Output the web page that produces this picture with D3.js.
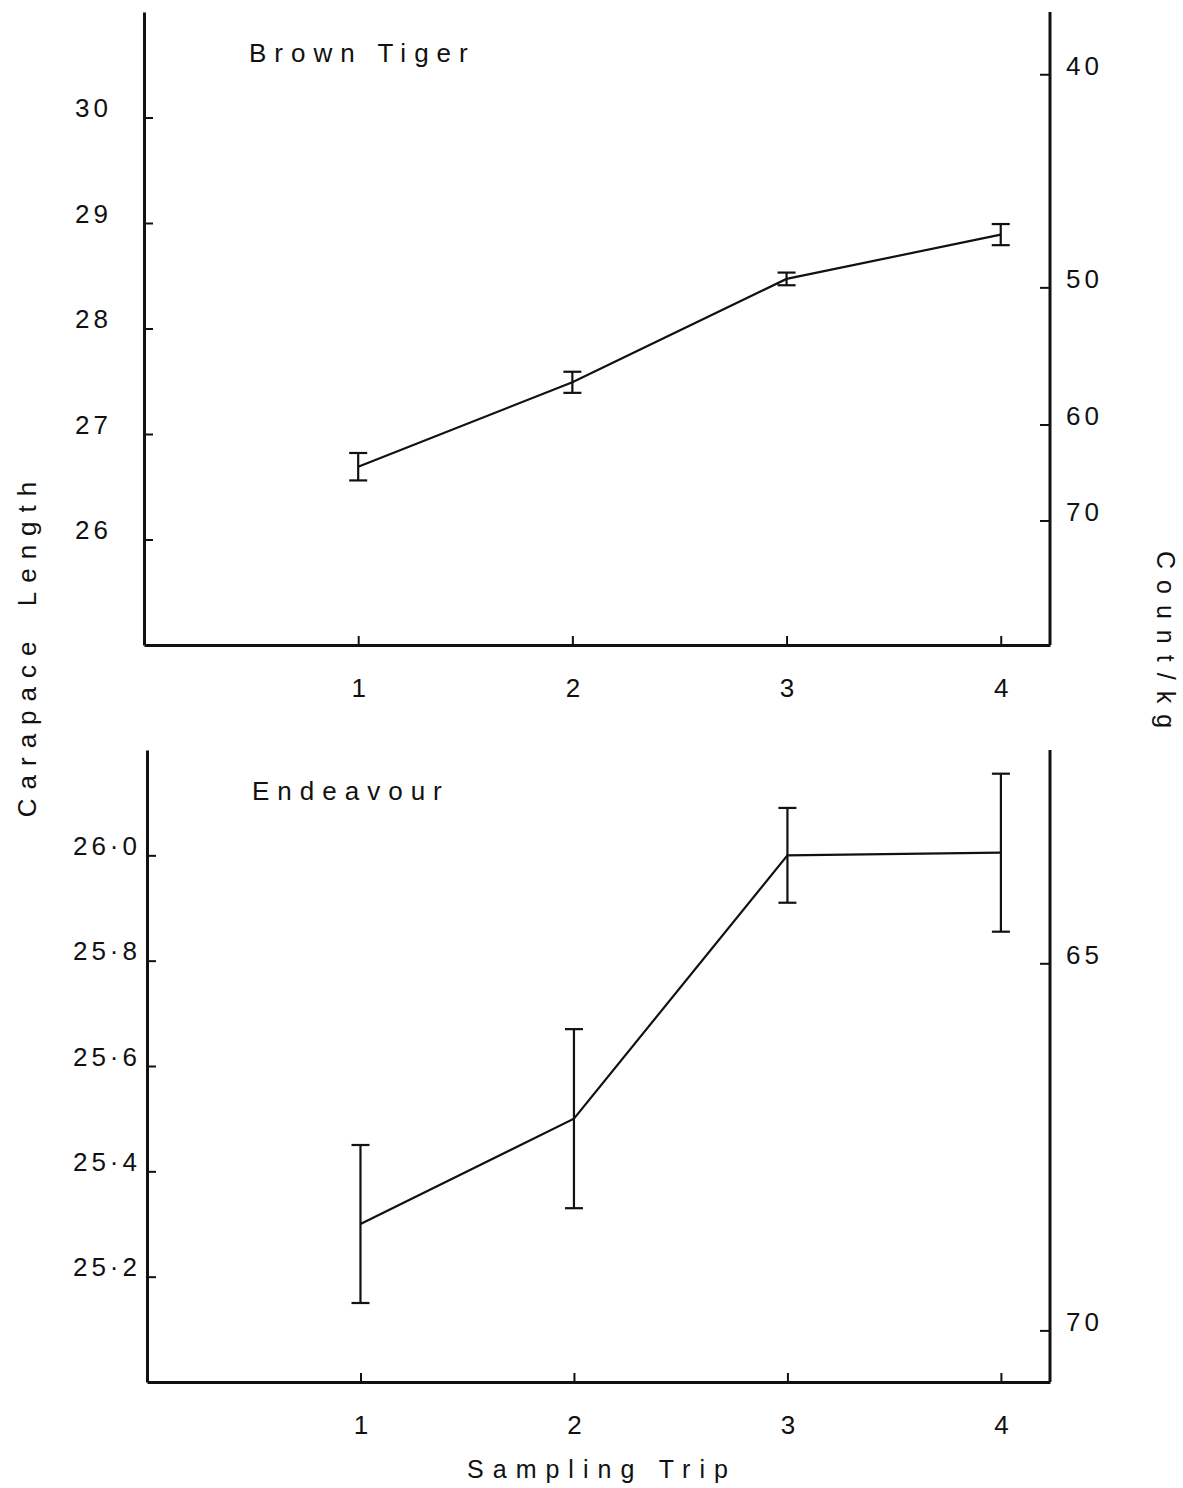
<!DOCTYPE html>
<html lang="en">
<head>
  <meta charset="UTF-8" />
  <title>Carapace Length by Sampling Trip</title>
  <style>
    body { margin: 0; background: #fff; }
    text { font-family: "Liberation Sans", Arial, sans-serif; fill: #111; }
    .axis path, .axis line { stroke: #111; }
    .axis path { stroke-width: 3; }
    .axis line { stroke-width: 2; }
  </style>
</head>
<body>
  <div id="chart"></div>

  <script src="https://d3js.org/d3.v7.min.js"></script>

  <script>
    // values
    const trips = [1, 2, 3, 4];

    const tigerMean = [26.69, 27.49, 28.47, 28.89];
    const tigerErr = [0.13, 0.10, 0.06, 0.10];

    const endeavourMean = [25.30, 25.50, 26.00, 26.005];
    const endeavourErr = [0.15, 0.17, 0.09, 0.15];

    const tigerLengthTicks = [26, 27, 28, 29, 30];
    const endeavourLengthTicks = [25.2, 25.4, 25.6, 25.8, 26.0];

    // right-hand count/kg ticks and the carapace length each one lines up with
    const tigerCountTicks = [40, 50, 60, 70];
    const tigerCountAsLength = [30.41, 28.39, 27.09, 26.18];
    const endeavourCountTicks = [65, 70];
    const endeavourCountAsLength = [25.795, 25.098];

    const width = 1183, height = 1488;

    const svg = d3.select("#chart")
      .append("svg")
      .attr("width", width)
      .attr("height", height);

    const panels = [
      {
        title: "Brown Tiger", mean: tigerMean, err: tigerErr,
        domain: [25, 31], lenTicks: tigerLengthTicks,
        countTicks: tigerCountTicks, countAsLength: tigerCountAsLength,
        fmt: d3.format("d"),
        top: 12, bottom: 645, left: 144, right: 1050, leftPad: 32
      },
      {
        title: "Endeavour", mean: endeavourMean, err: endeavourErr,
        domain: [25.0, 26.2], lenTicks: endeavourLengthTicks,
        countTicks: endeavourCountTicks, countAsLength: endeavourCountAsLength,
        fmt: d => d.toFixed(1).replace(".", "\u00b7"),
        top: 750, bottom: 1382, left: 147, right: 1050, leftPad: 6
      }
    ];

    panels.forEach(p => {
      const x = d3.scaleLinear().domain([0, 4.23]).range([p.left, p.right]);
      const y = d3.scaleLinear().domain(p.domain).range([p.bottom, p.top]);
      const yCount = d3.scaleLinear()
        .domain(p.countTicks)
        .range(p.countAsLength.map(y));

      // left axis, ticks pointing inward
      const gl = svg.append("g")
        .attr("class", "axis")
        .attr("transform", `translate(${p.left},0)`)
        .call(d3.axisLeft(y).tickValues(p.lenTicks).tickFormat(p.fmt)
          .tickSizeInner(-9).tickSizeOuter(0).tickPadding(p.leftPad));
      gl.selectAll("text")
        .attr("y", -10).attr("dy", "0.35em")
        .attr("font-size", "26px").attr("letter-spacing", "4px");

      // right axis (count/kg)
      const gr = svg.append("g")
        .attr("class", "axis")
        .attr("transform", `translate(${p.right},0)`)
        .call(d3.axisRight(yCount).tickValues(p.countTicks).tickFormat(d3.format("d"))
          .tickSizeInner(-10).tickSizeOuter(0).tickPadding(16));
      gr.select(".domain").attr("d", `M0,${p.top}V${p.bottom}`);
      gr.selectAll("text")
        .attr("y", -9).attr("dy", "0.35em")
        .attr("font-size", "26px").attr("letter-spacing", "4px");

      // bottom axis
      const gb = svg.append("g")
        .attr("class", "axis")
        .attr("transform", `translate(0,${p.bottom})`)
        .call(d3.axisBottom(x).tickValues(trips).tickFormat(d3.format("d"))
          .tickSizeInner(-9).tickSizeOuter(0));
      gb.selectAll("text")
        .attr("y", 43).attr("dy", "0.35em")
        .attr("font-size", "26px");

      // panel title
      svg.append("text")
        .attr("x", p.left + 105)
        .attr("y", p.top + 50)
        .attr("font-size", "26px")
        .attr("letter-spacing", "8px")
        .text(p.title);

      const pts = trips.map((t, i) => ({ t, m: p.mean[i], e: p.err[i] }));

      svg.append("path")
        .datum(pts)
        .attr("fill", "none")
        .attr("stroke", "#111")
        .attr("stroke-width", 2.2)
        .attr("d", d3.line().x(d => x(d.t)).y(d => y(d.m)));

      const bars = svg.append("g")
        .attr("stroke", "#111")
        .attr("stroke-width", 2.2)
        .selectAll("g")
        .data(pts)
        .join("g");

      bars.append("line")
        .attr("x1", d => x(d.t)).attr("x2", d => x(d.t))
        .attr("y1", d => y(d.m - d.e)).attr("y2", d => y(d.m + d.e));

      [d => d.m - d.e, d => d.m + d.e].forEach(f => {
        bars.append("line")
          .attr("x1", d => x(d.t) - 9).attr("x2", d => x(d.t) + 9)
          .attr("y1", d => y(f(d))).attr("y2", d => y(f(d)));
      });
    });

    // shared axis titles
    svg.append("text")
      .attr("transform", "translate(36,645) rotate(-90)")
      .attr("text-anchor", "middle")
      .attr("font-size", "26px")
      .attr("letter-spacing", "9px")
      .attr("word-spacing", "10px")
      .text("Carapace Length");

    svg.append("text")
      .attr("transform", "translate(1157,645) rotate(90)")
      .attr("text-anchor", "middle")
      .attr("font-size", "25px")
      .attr("letter-spacing", "11px")
      .text("Count/kg");

    svg.append("text")
      .attr("x", 602)
      .attr("y", 1478)
      .attr("text-anchor", "middle")
      .attr("font-size", "25px")
      .attr("letter-spacing", "9px")
      .text("Sampling Trip");
  </script>
</body>
</html>
